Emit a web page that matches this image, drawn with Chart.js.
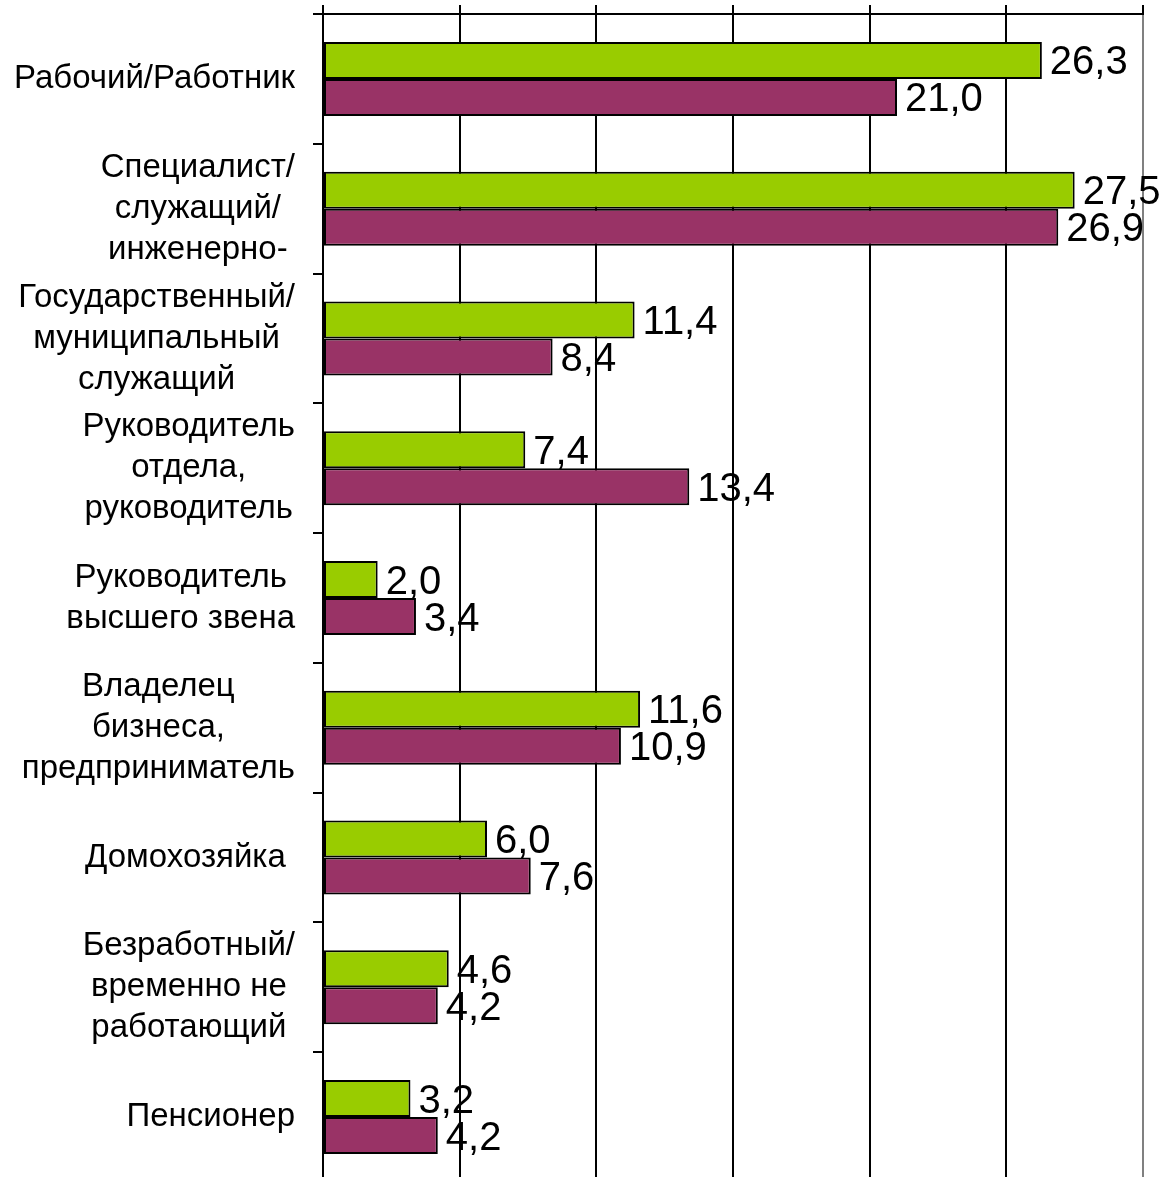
<!DOCTYPE html>
<html lang="ru">
<head>
<meta charset="utf-8">
<title>Социальный статус</title>
<script src="https://cdn.jsdelivr.net/npm/chart.js@4.4.1/dist/chart.umd.min.js"></script>
<style>
  html, body { margin: 0; padding: 0; background: #ffffff; }
  #wrap { position: relative; width: 1169px; height: 1177px; overflow: hidden; }
  canvas { display: block; }
</style>
</head>
<body>
<div id="wrap">
  <canvas id="statusChart" width="1169" height="1185"></canvas>
</div>
<script>
// Category labels, one array of lines per category
const CATEGORIES = [
  ['Рабочий/Работник'],
  ['Специалист/', 'служащий/', 'инженерно-'],
  ['Государственный/', 'муниципальный', 'служащий'],
  ['Руководитель', 'отдела,', 'руководитель'],
  ['Руководитель', 'высшего звена'],
  ['Владелец', 'бизнеса,', 'предприниматель'],
  ['Домохозяйка '],
  ['Безработный/', 'временно не', 'работающий'],
  ['Пенсионер']
];

// Series values (%)
const SERIES_GREEN = [26.3, 27.5, 11.4, 7.4, 2.0, 11.6, 6.0, 4.6, 3.2];
const SERIES_PURPLE = [21.0, 26.9, 8.4, 13.4, 3.4, 10.9, 7.6, 4.2, 4.2];

// Value axis range
const AXIS_MIN = 0;
const AXIS_MAX = 30;
const AXIS_STEP = 5;

const FONT_FAMILY = '"Liberation Sans", Arial, Helvetica, sans-serif';
const LABEL_FONT_SIZE = 33;
const LABEL_LINE_HEIGHT = 41;
const LABEL_RIGHT_EDGE = 295;
const VALUE_FONT_SIZE = 40;

/**
 * Draws category labels: each block right-aligned, its lines centred inside it
 */
const categoryLabelsPlugin = {
  id: 'categoryLabels',
  afterDraw(chart) {
    const ctx = chart.ctx;
    const yScale = chart.scales.y;
    ctx.save();
    ctx.font = `${LABEL_FONT_SIZE}px ${FONT_FAMILY}`;
    ctx.fillStyle = '#000000';
    ctx.textAlign = 'center';
    ctx.textBaseline = 'middle';

    CATEGORIES.forEach((lines, i) => {
      const centerY = yScale.getPixelForValue(i);
      const blockWidth = Math.max(...lines.map(l => ctx.measureText(l).width));
      const centerX = LABEL_RIGHT_EDGE - blockWidth / 2;
      lines.forEach((line, j) => {
        const y = centerY + (j - (lines.length - 1) / 2) * LABEL_LINE_HEIGHT;
        ctx.fillText(line, centerX, y);
      });
    });
    ctx.restore();
  }
};

/**
 * Writes the value next to the end of each bar, with a decimal comma
 */
const valueLabelsPlugin = {
  id: 'valueLabels',
  afterDatasetsDraw(chart) {
    const ctx = chart.ctx;
    ctx.save();
    ctx.font = `${VALUE_FONT_SIZE}px ${FONT_FAMILY}`;
    ctx.fillStyle = '#000000';
    ctx.textAlign = 'left';
    ctx.textBaseline = 'middle';

    chart.data.datasets.forEach((ds, d) => {
      const meta = chart.getDatasetMeta(d);
      meta.data.forEach((bar, i) => {
        const text = ds.data[i].toFixed(1).replace('.', ',');
        ctx.fillText(text, bar.x + 8, bar.y + 3);
      });
    });
    ctx.restore();
  }
};

const ctx = document.getElementById('statusChart').getContext('2d');

new Chart(ctx, {
  type: 'bar',
  data: {
    labels: CATEGORIES.map(lines => lines.join(' ')),
    datasets: [
      {
        label: 'Серия 1',
        data: SERIES_GREEN,
        backgroundColor: '#99CC00',
        borderColor: '#000000',
        borderWidth: 2,
        borderSkipped: false
      },
      {
        label: 'Серия 2',
        data: SERIES_PURPLE,
        backgroundColor: '#993366',
        borderColor: '#000000',
        borderWidth: 2,
        borderSkipped: false
      }
    ]
  },
  options: {
    indexAxis: 'y',
    responsive: false,
    animation: false,
    layout: {
      padding: { top: 5, right: 26, bottom: 3, left: 0 }
    },
    datasets: {
      bar: {
        categoryPercentage: 0.57,
        barPercentage: 1.0
      }
    },
    plugins: {
      legend: { display: false },
      tooltip: { enabled: false }
    },
    scales: {
      x: {
        position: 'top',
        min: AXIS_MIN,
        max: AXIS_MAX,
        ticks: { display: false, stepSize: AXIS_STEP },
        grid: {
          // last gridline (the right edge) is grey in the original
          color: (c) => (c.tick && c.tick.value === AXIS_MAX ? '#808080' : '#000000'),
          tickColor: '#000000',
          lineWidth: 2,
          tickLength: 9
        },
        border: { display: true, color: '#000000', width: 2 }
      },
      y: {
        ticks: { display: false },
        grid: {
          drawOnChartArea: false,
          color: '#000000',
          lineWidth: 2,
          tickLength: 10
        },
        border: { display: true, color: '#000000', width: 2 },
        afterFit: (scale) => { scale.width = 323; }
      }
    }
  },
  plugins: [categoryLabelsPlugin, valueLabelsPlugin]
});
</script>
</body>
</html>
